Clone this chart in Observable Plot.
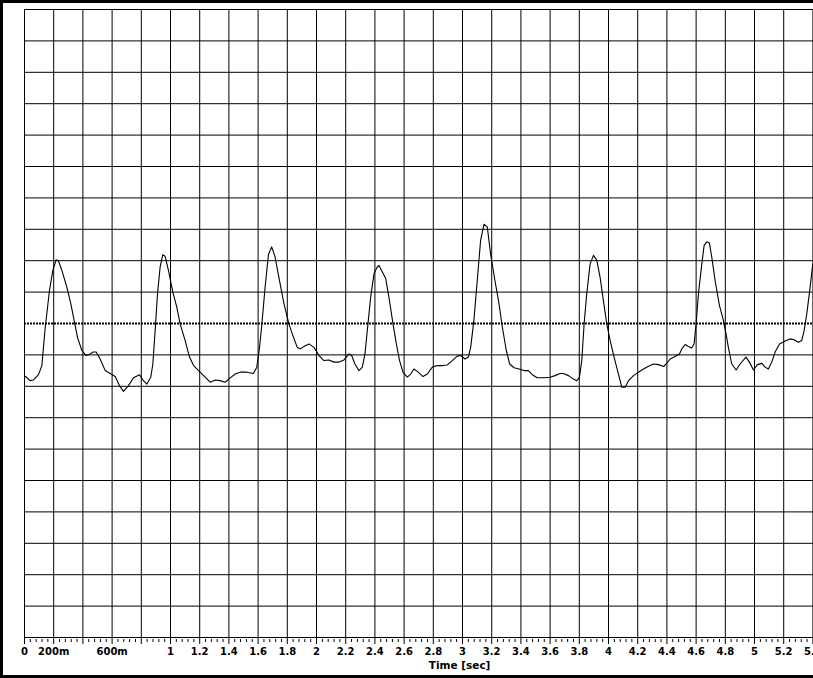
<!DOCTYPE html>
<html>
<head>
<meta charset="utf-8">
<script src="https://cdn.jsdelivr.net/npm/d3@7"></script>
<script src="https://cdn.jsdelivr.net/npm/@observablehq/plot@0.6"></script>
<style>
  html, body { margin: 0; padding: 0; background: #fff; overflow: hidden; }
  #wrap { position: relative; width: 813px; height: 678px; overflow: hidden; background: #fff; }
  #frame { position: absolute; left: 0; top: 0; width: 813px; height: 678px; box-sizing: border-box;
           border-left: 3px solid #000; border-top: 3px solid #000; border-bottom: 3px solid #000; pointer-events: none; }
</style>
</head>
<body>
<div id="wrap"><div id="chart"></div><div id="frame"></div></div>
<script>
// ---- data ----
const tSec = [0.005,0.039,0.060,0.096,0.119,0.142,0.171,0.194,0.217,0.233,0.256,0.290,0.317,0.340,0.363,0.393,0.422,0.450,0.468,0.491,0.518,0.553,0.587,0.621,0.651,0.678,0.712,0.747,0.788,0.811,0.838,0.865,0.879,0.895,0.911,0.929,0.947,0.963,0.986,1.016,1.043,1.066,1.100,1.130,1.158,1.203,1.237,1.272,1.306,1.340,1.374,1.409,1.443,1.477,1.523,1.568,1.591,1.610,1.626,1.648,1.671,1.693,1.716,1.743,1.777,1.811,1.834,1.868,1.891,1.914,1.948,1.983,2.017,2.051,2.085,2.120,2.154,2.188,2.222,2.241,2.263,2.291,2.314,2.332,2.348,2.371,2.394,2.416,2.428,2.451,2.474,2.496,2.524,2.547,2.569,2.592,2.622,2.645,2.667,2.697,2.729,2.759,2.793,2.827,2.862,2.896,2.930,2.964,2.987,3.017,3.040,3.056,3.078,3.101,3.124,3.147,3.170,3.192,3.222,3.250,3.273,3.300,3.323,3.353,3.387,3.421,3.451,3.478,3.512,3.558,3.600,3.634,3.668,3.691,3.726,3.760,3.783,3.801,3.817,3.833,3.851,3.874,3.897,3.920,3.942,3.965,3.988,4.011,4.038,4.068,4.091,4.114,4.137,4.171,4.205,4.239,4.274,4.308,4.342,4.376,4.399,4.422,4.456,4.486,4.502,4.525,4.547,4.570,4.586,4.600,4.616,4.639,4.655,4.673,4.691,4.707,4.730,4.760,4.787,4.805,4.821,4.844,4.874,4.901,4.942,4.965,4.993,5.020,5.050,5.073,5.095,5.118,5.141,5.171,5.210,5.244,5.271,5.301,5.324,5.340,5.358,5.381,5.399];
const amp = [-1.68,-1.82,-1.80,-1.63,-1.34,-0.12,1.05,1.69,2.03,1.99,1.69,1.16,0.63,0.10,-0.44,-0.86,-1.02,-0.97,-0.91,-0.91,-1.13,-1.50,-1.59,-1.69,-1.98,-2.16,-1.98,-1.73,-1.63,-1.80,-1.93,-1.71,-1.29,-0.22,0.95,1.80,2.19,2.14,1.69,1.00,0.52,-0.01,-0.54,-1.07,-1.34,-1.55,-1.71,-1.87,-1.80,-1.82,-1.87,-1.73,-1.61,-1.55,-1.55,-1.59,-1.39,-0.76,-0.01,1.16,2.20,2.44,2.12,1.45,0.63,-0.01,-0.33,-0.76,-0.81,-0.73,-0.65,-0.76,-1.02,-1.18,-1.16,-1.23,-1.23,-1.16,-0.97,-1.02,-1.29,-1.50,-1.39,-0.97,-0.22,0.84,1.59,1.80,1.85,1.64,1.43,0.84,-0.01,-0.65,-1.18,-1.55,-1.71,-1.61,-1.45,-1.55,-1.69,-1.61,-1.39,-1.34,-1.34,-1.32,-1.18,-1.04,-1.02,-1.13,-1.07,-0.76,0.10,1.37,2.65,3.16,3.07,2.22,1.37,0.63,-0.12,-0.86,-1.29,-1.41,-1.45,-1.50,-1.50,-1.63,-1.73,-1.73,-1.71,-1.66,-1.59,-1.59,-1.66,-1.77,-1.82,-1.71,-1.18,-0.01,0.95,1.90,2.17,2.01,1.48,0.73,-0.01,-0.54,-1.07,-1.61,-2.03,-2.03,-1.82,-1.66,-1.55,-1.45,-1.36,-1.29,-1.31,-1.37,-1.27,-1.13,-1.05,-0.97,-0.81,-0.67,-0.73,-0.78,-0.65,-0.01,0.95,1.90,2.49,2.60,2.56,2.12,1.37,0.57,0.10,-0.33,-0.76,-1.29,-1.48,-1.29,-1.07,-1.23,-1.48,-1.31,-1.27,-1.39,-1.45,-1.23,-0.91,-0.65,-0.56,-0.49,-0.52,-0.60,-0.54,-0.22,0.31,1.16,1.90];

const xMajor = d3.range(28).map(i => +(i * 0.2).toFixed(2));              // 0 .. 5.4
const xMinor = d3.range(136).filter(i => i % 5 !== 0).map(i => +(i * 0.04).toFixed(2));
const yGrid = d3.range(-10, 11);                                          // 20 divisions
const xTickValues = [0, 0.2, 0.6, 1, 1.2, 1.4, 1.6, 1.8, 2, 2.2, 2.4, 2.6, 2.8, 3, 3.2, 3.4, 3.6, 3.8, 4, 4.2, 4.4, 4.6, 4.8, 5, 5.2, 5.4];
const xTickLabels = ["0", "200m", "600m", "1", "1.2", "1.4", "1.6", "1.8", "2", "2.2", "2.4", "2.6", "2.8", "3", "3.2", "3.4", "3.6", "3.8", "4", "4.2", "4.4", "4.6", "4.8", "5", "5.2", "5.4"];
const xTitle = "Time [sec]";
const xTitleAt = 2.98;

const signal = tSec.map((t, i) => ({t, v: amp[i]}));
const font = "DejaVu Sans, Verdana, Tahoma, sans-serif";

const chart = Plot.plot({
  width: 813,
  height: 678,
  marginLeft: 24,
  marginRight: 0,
  marginTop: 9,
  marginBottom: 41,
  x: {domain: [0, 5.404], axis: null},
  y: {domain: [-10, 10], axis: null},
  style: {fontFamily: font, fontSize: "10px", background: "white", color: "black", overflow: "visible"},
  marks: [
    Plot.gridX(xMajor, {stroke: "black", strokeOpacity: 1, strokeWidth: 1}),
    Plot.gridY(yGrid.filter(v => v !== 0), {stroke: "black", strokeOpacity: 1, strokeWidth: 1}),
    Plot.ruleY([0], {stroke: "black", strokeWidth: 2, strokeDasharray: "2,1"}),
    Plot.line(signal, {x: "t", y: "v", stroke: "black", strokeWidth: 1.1}),
    Plot.axisX(xMajor, {tickSize: 7, fill: "none", stroke: "black"}),
    Plot.axisX(xMinor, {tickSize: 3, fill: "none", stroke: "black", dy: 2}),
    Plot.text(xTickValues, {x: d => d, text: (d, i) => xTickLabels[i], frameAnchor: "bottom", dy: 14,
      fill: "black", fontWeight: "bold", fontSize: 10, lineAnchor: "middle"}),
    Plot.text([{label: xTitle, t: xTitleAt}], {x: "t", text: "label", frameAnchor: "bottom", dy: 28,
      fill: "black", fontWeight: "bold", fontSize: 10.5, lineAnchor: "middle"})
  ]
});
document.getElementById("chart").appendChild(chart);
</script>
</body>
</html>
